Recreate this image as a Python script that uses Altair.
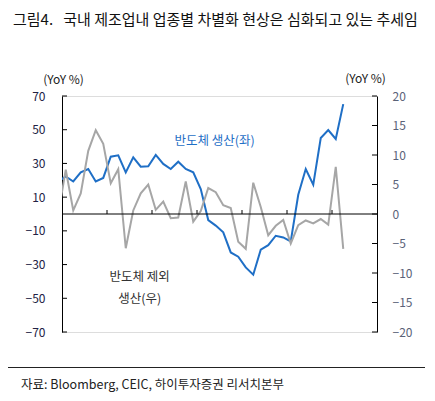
import json
import altair as alt
import pandas as pd

FONT = "Noto Sans CJK KR"
BLUE = "#1f6fc6"
GRAY = "#a6a6a6"

# month categories: index -1 = 20.12 (clipped at the left edge), 0 = 21.01 ... 37 = 24.02
months = ["20.12"] + [f"{y}.{m:02d}" for y in (21, 22, 23) for m in range(1, 13)] + ["24.01", "24.02"]
idx = list(range(-1, len(months) - 1))

semi = [19.2, 22.3, 19.3, 24.7, 26.7, 19.3, 21.4, 34.0, 34.8, 24.7,
        33.6, 28.1, 28.3, 35.1, 29.7, 26.7, 31.0, 26.7, 24.7, 14.8,
        -3.6, -6.9, -10.9, -22.8, -25.3, -31.7, -36.0, -21.2, -18.5, -12.9,
        -13.9, -16.3, 11.4, 26.7, 17.4, 45.1, 49.8, 44.5, 65.2]
exsemi = [0.0, 7.5, 0.6, 3.5, 10.7, 14.2, 11.9, 5.2, 7.6, -5.8,
          0.6, 3.5, 5.0, 0.7, 2.1, -0.7, -0.6, 5.5, -1.3, 0.5,
          4.4, 3.7, 1.5, 1.0, -4.7, -5.9, 5.3, 1.2, -3.6, -2.0,
          -1.0, -5.0, -1.9, -1.1, -1.6, -0.85, -1.8, 8.0, -5.9]

tick_labels = ["21.01", "21.07", "22.01", "22.07", "23.01", "23.07", "24.01"]
tick_label_idx = [0, 6, 12, 18, 24, 30, 36]
band_edges = [5.5, 11.5, 17.5, 23.5, 29.5, 35.5]
left_ticks = [-70, -50, -30, -10, 10, 30, 50, 70]
right_ticks = [-20, -15, -10, -5, 0, 5, 10, 15, 20]

W, H = 315, 236

df = pd.DataFrame({"idx": idx, "month": months, "semi": semi, "exsemi": exsemi})

xscale = alt.Scale(domain=[-0.5, 41.5], nice=False, zero=False)
lscale = alt.Scale(domain=[-70, 70], nice=False, zero=False)
rscale = alt.Scale(domain=[-20, 20], nice=False, zero=False)

label_expr = json.dumps(tick_labels) + "[round(datum.value/6)]"

x_axis = alt.Axis(values=tick_label_idx, labelExpr=label_expr, domain=False, ticks=False,
                  grid=False, title=None, labelPadding=11, labelFontSize=12,
                  labelColor="#222222", labelFont=FONT)

blue = alt.Chart(df).mark_line(color=BLUE, strokeWidth=2, clip=True).encode(
    x=alt.X("idx:Q", scale=xscale, axis=x_axis),
    y=alt.Y("semi:Q", scale=lscale,
            axis=alt.Axis(values=left_ticks, orient="left", domain=True, domainColor="black",
                          domainWidth=1, ticks=False, grid=False, labelPadding=17,
                          labelFontSize=12, labelColor="#222244", labelFont=FONT,
                          title="(YoY %)", titleAngle=0, titleX=1, titleY=-17,
                          titleAlign="center", titleBaseline="middle",
                          titleFontWeight="normal", titleFontSize=12,
                          titleColor="#222222", titleFont=FONT)),
)

gray = alt.Chart(df).mark_line(color=GRAY, strokeWidth=2, clip=True).encode(
    x=alt.X("idx:Q", scale=xscale, axis=None),
    y=alt.Y("exsemi:Q", scale=rscale,
            axis=alt.Axis(values=right_ticks, orient="right", domain=True, domainColor="black",
                          domainWidth=1, ticks=False, grid=False, labelPadding=15,
                          labelFontSize=12, labelColor="#5a6278", labelFont=FONT,
                          title="(YoY %)", titleAngle=0, titleX=-12, titleY=-18,
                          titleAlign="center", titleBaseline="middle",
                          titleFontWeight="normal", titleFontSize=12,
                          titleColor="#222222", titleFont=FONT)),
)

zero_line = alt.Chart(pd.DataFrame({"z": [0]})).mark_rule(color="black", strokeWidth=1).encode(
    y=alt.Y("z:Q", scale=lscale, axis=None),
    x=alt.value(0), x2=alt.value(W),
)

xticks = alt.Chart(pd.DataFrame({"e": band_edges})).mark_rule(color="black", strokeWidth=1).encode(
    x=alt.X("e:Q", scale=xscale, axis=None),
    y=alt.value(H / 2 - 4), y2=alt.value(H / 2),
)

lticks = alt.Chart(pd.DataFrame({"v": left_ticks})).mark_rule(color="black", strokeWidth=1).encode(
    y=alt.Y("v:Q", scale=lscale, axis=None),
    x=alt.value(0), x2=alt.value(5),
)

rticks = alt.Chart(pd.DataFrame({"v": right_ticks})).mark_rule(color="black", strokeWidth=1).encode(
    y=alt.Y("v:Q", scale=rscale, axis=None),
    x=alt.value(W - 5), x2=alt.value(W),
)

one = pd.DataFrame({"a": [0]})

ann_blue = alt.Chart(one).mark_text(color=BLUE, font=FONT, fontSize=12.5, align="center",
                                    baseline="middle").encode(
    x=alt.XDatum(19.85, scale=xscale, axis=None),
    y=alt.YDatum(43.5, scale=lscale, axis=None),
    text=alt.value("반도체 생산(좌)"),
)

ann_gray = alt.Chart(one).mark_text(color="#333333", font=FONT, fontSize=12.5, align="center",
                                    baseline="middle", lineHeight=21.5).encode(
    x=alt.XDatum(9.85, scale=xscale, axis=None),
    y=alt.YDatum(-37.6, scale=lscale, axis=None),
    text=alt.value(["반도체 제외", "생산(우)"]),
)

title = alt.Chart(one).mark_text(color="#111111", font=FONT, fontSize=15, align="left",
                                 baseline="middle").encode(
    x=alt.value(-49), y=alt.value(-76),
    text=alt.value("그림4.\u00a0\u00a0\u00a0국내 제조업내 업종별 차별화 현상은 심화되고 있는 추세임"),
)

footer_line = alt.Chart(one).mark_rule(color="#222222", strokeWidth=1).encode(
    x=alt.value(-54), x2=alt.value(363), y=alt.value(271.5),
)

source = alt.Chart(one).mark_text(color="#222222", font=FONT, fontSize=12.5, align="left",
                                  baseline="middle").encode(
    x=alt.value(-41), y=alt.value(289),
    text=alt.value("자료: Bloomberg, CEIC, 하이투자증권 리서치본부"),
)

chart = alt.layer(
    blue, gray, zero_line, xticks, lticks, rticks, ann_blue, ann_gray, title, footer_line, source
).resolve_scale(y="independent").properties(
    width=W, height=H,
    autosize=alt.AutoSizeParams(type="none"),
    padding={"left": 54, "top": 88, "right": 50, "bottom": 61},
).configure_view(stroke=None).configure(background="white")

chart.save("out.html", embed_options={"renderer": "svg", "actions": False})
